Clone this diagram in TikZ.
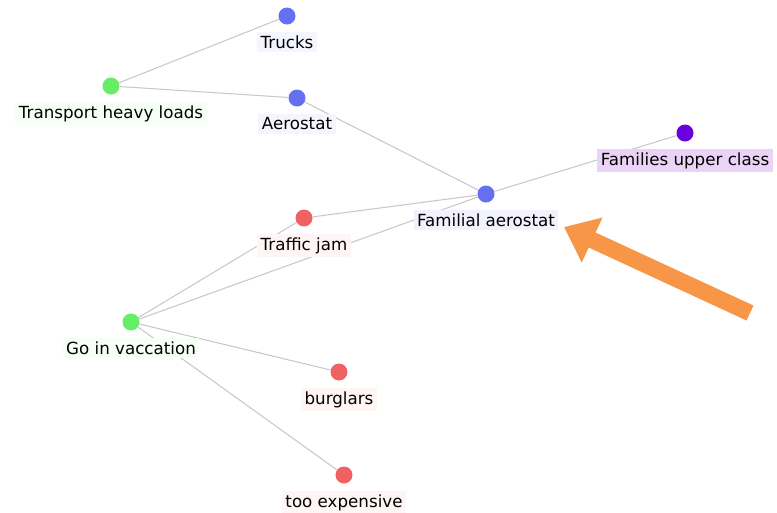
\documentclass[tikz,border=0pt]{standalone}
\usepackage{fontspec}
\setmainfont{DejaVu Sans}
\usetikzlibrary{positioning,arrows.meta,backgrounds}

\definecolor{bluedot}{HTML}{6470F0}
\definecolor{greendot}{HTML}{66EE66}
\definecolor{reddot}{HTML}{F06262}
\definecolor{purpledot}{HTML}{6A00E0}
\definecolor{edgegray}{HTML}{C8C8C8}
\definecolor{arroworange}{HTML}{F79646}
\definecolor{upperbg}{HTML}{EBD2F7}

\tikzset{
  dot/.style = {circle, minimum size=0.34cm, inner sep=0pt},
  lbl/.style = {font=\fontsize{9.5}{11}\selectfont, inner sep=2pt, text=black},
  link/.style = {draw=edgegray, line width=0.6pt}
}

\begin{document}
\begin{tikzpicture}[x=0.02cm, y=-0.02cm]
\useasboundingbox (0,0) rectangle (777,512);
% dots
\node[dot, fill=bluedot] (trucks) at (287,16) {};
\node[dot, fill=greendot] (transport) at (111,86) {};
\node[dot, fill=bluedot] (aerostat) at (297,98) {};
\node[dot, fill=purpledot] (upper) at (685,133) {};
\node[dot, fill=bluedot] (familial) at (486,194) {};
\node[dot, fill=reddot] (traffic) at (304,218) {};
\node[dot, fill=greendot] (vacation) at (131,322) {};
\node[dot, fill=reddot] (burglars) at (339,372) {};
\node[dot, fill=reddot] (expensive) at (344,475) {};
% labels
\node[lbl, fill=blue!4, below=4pt of trucks] (trucksL) {Trucks};
\node[lbl, fill=green!4, below=4pt of transport] (transportL) {Transport heavy loads};
\node[lbl, fill=blue!4, below=4pt of aerostat] (aerostatL) {Aerostat};
\node[lbl, fill=upperbg, below=4pt of upper] (upperL) {Families upper class};
\node[lbl, fill=blue!5, below=4pt of familial] (familialL) {Familial aerostat};
\node[lbl, fill=red!4, below=4pt of traffic] (trafficL) {Traffic jam};
\node[lbl, fill=green!4, below=4pt of vacation] (vacationL) {Go in vaccation};
\node[lbl, fill=red!4, below=4pt of burglars] (burglarsL) {burglars};
\node[lbl, fill=red!4, below=4pt of expensive] (expensiveL) {too expensive};
% links
\begin{scope}[on background layer]
\draw[link] (transport) -- (trucks);
\draw[link] (transport) -- (aerostat);
\draw[link] (aerostat) -- (familial);
\draw[link] (familial) -- (upper);
\draw[link] (traffic) -- (familial);
\draw[link] (vacation) -- (traffic);
\draw[link] (vacation) -- (familial);
\draw[link] (vacation) -- (burglars);
\draw[link] (vacation) -- (expensive);
\end{scope}
% pointer
\coordinate (tail) at (750,313);
\coordinate (tip) at (564,227);
\draw[arroworange, line width=0.33cm, -{Triangle[length=0.62cm, width=0.95cm]}] (tail) -- (tip);
\end{tikzpicture}
\end{document}
